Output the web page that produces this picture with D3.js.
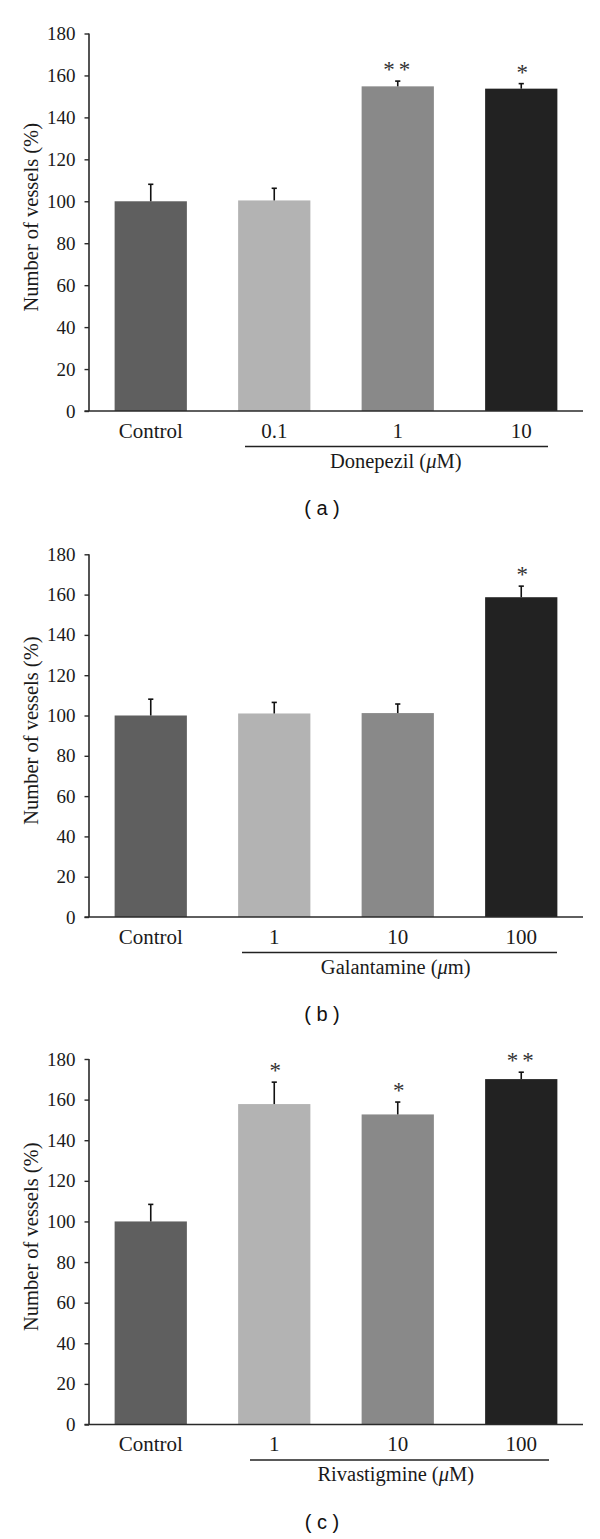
<!DOCTYPE html>
<html>
<head>
<meta charset="utf-8">
<script src="https://cdn.jsdelivr.net/npm/d3@7/dist/d3.min.js"></script>
<style>
  html, body { margin: 0; padding: 0; background: #fff; }
  svg { display: block; }
</style>
</head>
<body>
<svg id="chart" width="600" height="1539"></svg>
<script>
// ---- data ----
const yTicks = [0, 20, 40, 60, 80, 100, 120, 140, 160, 180];
const barColors = ["#5f5f5f", "#b3b3b3", "#898989", "#222222"];

const catsA = ["Control", "0.1", "1", "10"];
const valsA = [100, 100.4, 154.8, 153.7];
const errsA = [8.1, 5.8, 2.5, 2.4];
const starsA = ["", "", "**", "*"];
const titleA = ["Donepezil (", "μ", "M)"];
const tagA = "( a )";

const catsB = ["Control", "1", "10", "100"];
const valsB = [100, 101, 101.2, 158.7];
const errsB = [8.1, 5.5, 4.5, 5.5];
const starsB = ["", "", "", "*"];
const titleB = ["Galantamine (", "μ", "m)"];
const tagB = "( b )";

const catsC = ["Control", "1", "10", "100"];
const valsC = [100, 157.8, 152.7, 170.1];
const errsC = [8.4, 10.8, 6.1, 3.4];
const starsC = ["", "*", "*", "**"];
const titleC = ["Rivastigmine (", "μ", "M)"];
const tagC = "( c )";

// ---- layout (per panel) ----
const panels = [
  { cats: catsA, vals: valsA, errs: errsA, stars: starsA, title: titleA, tag: tagA,
    y0: 411, y1: 33.5, ul: [245, 548] },
  { cats: catsB, vals: valsB, errs: errsB, stars: starsB, title: titleB, tag: tagB,
    y0: 917, y1: 554.3, ul: [242, 557] },
  { cats: catsC, vals: valsC, errs: errsC, stars: starsC, title: titleC, tag: tagC,
    y0: 1424.5, y1: 1059, ul: [250, 549] }
];

const svg = d3.select("#chart");
const serif = "'Liberation Serif', 'Times New Roman', serif";
const sans = "'Liberation Sans', Arial, sans-serif";
const axisColor = "#2a2a2a";
const xLeft = 89, xRight = 583;

panels.forEach(p => {
  const g = svg.append("g");
  const x = d3.scaleBand().domain(p.cats).range([xLeft, xRight])
    .paddingInner(0.415).paddingOuter(0.2075);
  const y = d3.scaleLinear().domain([0, 180]).range([p.y0, p.y1]);

  // bars
  g.selectAll("rect.bar").data(p.vals).enter().append("rect")
    .attr("x", (d, i) => x(p.cats[i]))
    .attr("width", x.bandwidth())
    .attr("y", d => y(d))
    .attr("height", d => y(0) - y(d))
    .attr("fill", (d, i) => barColors[i]);

  // error bars (upper only)
  const eb = g.selectAll("g.err").data(p.vals).enter().append("g");
  eb.append("line")
    .attr("x1", (d, i) => x(p.cats[i]) + x.bandwidth() / 2)
    .attr("x2", (d, i) => x(p.cats[i]) + x.bandwidth() / 2)
    .attr("y1", d => y(d))
    .attr("y2", (d, i) => y(d + p.errs[i]))
    .attr("stroke", "#111").attr("stroke-width", 1.6);
  eb.append("line")
    .attr("x1", (d, i) => x(p.cats[i]) + x.bandwidth() / 2 - 2.6)
    .attr("x2", (d, i) => x(p.cats[i]) + x.bandwidth() / 2 + 2.6)
    .attr("y1", (d, i) => y(d + p.errs[i]))
    .attr("y2", (d, i) => y(d + p.errs[i]))
    .attr("stroke", "#111").attr("stroke-width", 1.6);

  // stars
  g.selectAll("text.star").data(p.vals).enter().append("text")
    .attr("x", (d, i) => x(p.cats[i]) + x.bandwidth() / 2 + 1)
    .attr("y", (d, i) => y(d + p.errs[i]) - 4)
    .attr("text-anchor", "middle")
    .attr("font-family", serif)
    .attr("font-size", 23)
    .attr("letter-spacing", (d, i) => p.stars[i].length > 1 ? 4 : 0)
    .attr("fill", "#333")
    .text((d, i) => p.stars[i]);

  // y axis
  const yAxis = d3.axisLeft(y).tickValues(yTicks).tickSize(4.5).tickPadding(9)
    .tickFormat(d3.format("d"));
  const ya = g.append("g").attr("transform", `translate(${xLeft},0)`).call(yAxis);
  ya.select(".domain").attr("stroke", axisColor).attr("stroke-width", 1.6)
    .attr("d", `M0,${p.y1}V${p.y0}`);
  ya.selectAll(".tick line").attr("stroke", axisColor).attr("stroke-width", 1.4);
  ya.selectAll(".tick text").attr("font-family", serif).attr("font-size", 19)
    .attr("fill", "#1a1a1a");

  // x axis
  const xAxis = d3.axisBottom(x).tickSize(0).tickPadding(12);
  const xa = g.append("g").attr("transform", `translate(0,${p.y0})`).call(xAxis);
  xa.select(".domain").attr("stroke", axisColor).attr("stroke-width", 1.6)
    .attr("d", `M${xLeft - 4.5},0H${xRight}`);
  xa.selectAll(".tick text").attr("font-family", serif).attr("font-size", 21)
    .attr("fill", "#1a1a1a");

  // underline for drug group
  g.append("line")
    .attr("x1", p.ul[0]).attr("x2", p.ul[1])
    .attr("y1", p.y0 + 35.5).attr("y2", p.y0 + 35.5)
    .attr("stroke", "#222").attr("stroke-width", 1.5);

  // group title
  const t = g.append("text")
    .attr("x", (x(p.cats[1]) + x(p.cats[3]) + x.bandwidth()) / 2 - 2)
    .attr("y", p.y0 + 56.5)
    .attr("text-anchor", "middle")
    .attr("font-family", serif).attr("font-size", 20.5).attr("fill", "#1a1a1a");
  t.append("tspan").text(p.title[0]);
  t.append("tspan").attr("font-style", "italic").text(p.title[1]);
  t.append("tspan").text(p.title[2]);

  // y-axis label
  g.append("text")
    .attr("transform", `translate(38,${(p.y0 + p.y1) / 2 - 5}) rotate(-90)`)
    .attr("text-anchor", "middle")
    .attr("font-family", serif).attr("font-size", 20.5).attr("fill", "#1a1a1a")
    .text("Number of vessels (%)");

  // panel tag
  g.append("text")
    .attr("x", 322).attr("y", p.y0 + 104)
    .attr("text-anchor", "middle")
    .attr("font-family", sans).attr("font-size", 20).attr("fill", "#111")
    .attr("xml:space", "preserve")
    .text(p.tag);
});
</script>
</body>
</html>
